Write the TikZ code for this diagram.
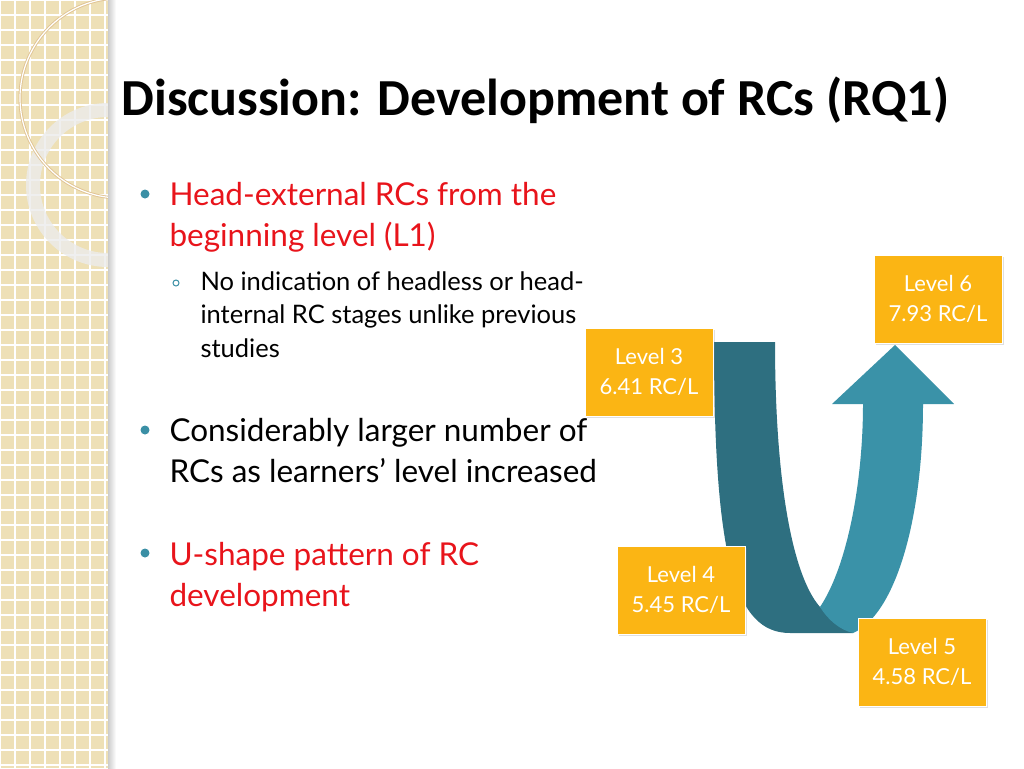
\documentclass[tikz,border=0pt]{standalone}
\usepackage{fontspec}
\setmainfont{Lato}
\newfontfamily\titlefont{Carlito}
\usetikzlibrary{shadows}
\definecolor{beige}{HTML}{EEE0B6}
\definecolor{ured}{HTML}{E8141B}
\definecolor{dotteal}{HTML}{3A8FA5}
\definecolor{darkband}{HTML}{2E6F80}
\definecolor{lightband}{HTML}{3A92A8}
\definecolor{boxorange}{HTML}{FBB514}
\tikzset{
  levelbox/.style={fill=boxorange, draw=white, line width=1pt, minimum width=128pt,
    minimum height=88pt, align=center, text=white, font=\fontsize{22}{30}\selectfont,
    drop shadow={opacity=0.25, shadow xshift=2pt, shadow yshift=-2pt}},
  mainline/.style={anchor=base west, align=left, font=\fontsize{31.5}{41}\selectfont},
  subline/.style={anchor=base west, align=left, font=\fontsize{25.5}{33.5}\selectfont},
  bulletdot/.style={fill=dotteal, draw=none}
}
\begin{document}
\begin{tikzpicture}[x=1pt, y=-1pt]
        \useasboundingbox (0, 0) rectangle (1024, 768);

        % left strip
        \fill[beige] (0, 0) rectangle (113, 768);
        \begin{scope}
            \clip (0, 0) rectangle (113, 768);
            \foreach \i in {0,...,55} {
                \draw[white, line width=1.2pt] (\i*15, 0) -- (\i*15, 768);
                \draw[white, line width=1.2pt] (0, \i*15) -- (113, \i*15);
            }
            \draw[white!85!gray, line width=14pt, opacity=0.8] (108, 185) circle [radius=75];
            \draw[beige!70!brown, line width=3pt] (120, 98) circle [radius=100];
            \draw[white, line width=1.2pt] (120, 98) circle [radius=100];
        \end{scope}
        \fill[left color=gray!40, right color=white] (108, 0) rectangle (116, 768);

        % title
        \node[anchor=base west, font=\titlefont\bfseries\fontsize{52}{56}\selectfont] (title) at (118, 115) {Discussion: Development of RCs (RQ1)};

        % bullets
        \foreach \y in {194, 430, 553} {
            \fill[bulletdot] (145, \y) circle [radius=4.5];
        }
        \draw[dotteal, line width=1pt] (176, 283) circle [radius=3];

        \node[mainline, text=ured] (head) at (166, 246) {Head-external RCs from the\\beginning level (L1)};
        \node[subline] (noind) at (197, 357) {No indication of headless or head-\\internal RC stages unlike previous\\studies};
        \node[mainline] (consid) at (166, 482) {Considerably larger number of\\RCs as learners’ level increased};
        \node[mainline, text=ured] (ushape) at (166, 606) {U-shape pattern of RC\\development};

        % U arrow
        \fill[darkband] (714, 342) -- (775, 342) .. controls (775, 480) and (792, 575) .. (820, 607)
            -- (853, 633) -- (790, 633) .. controls (735, 633) and (714, 560) .. (714, 342) -- cycle;
        \fill[lightband] (820, 607) .. controls (848, 565) and (863, 480) .. (863, 404)
            -- (832, 404) -- (895, 345) -- (954, 404) -- (923, 404)
            .. controls (923, 520) and (895, 615) .. (853, 633) .. controls (840, 630) and (828, 620) .. (820, 607) -- cycle;

        % level boxes
        \node[levelbox] (lvl3) at (649, 372) {Level 3\\6.41 RC/L};
        \node[levelbox] (lvl6) at (938, 299) {Level 6\\7.93 RC/L};
        \node[levelbox] (lvl4) at (681, 590) {Level 4\\5.45 RC/L};
        \node[levelbox] (lvl5) at (922, 662) {Level 5\\4.58 RC/L};

    \end{tikzpicture}
\end{document}
